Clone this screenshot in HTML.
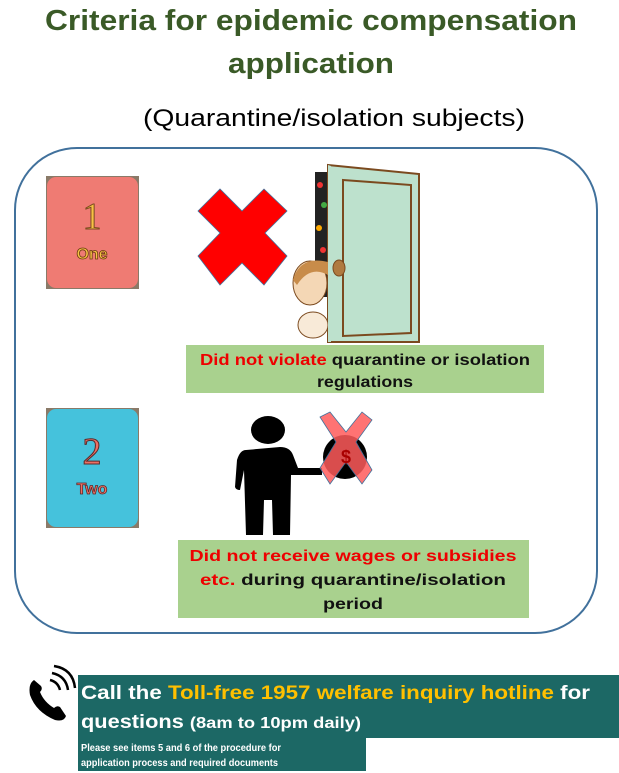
<!DOCTYPE html>
<html><head><meta charset="utf-8"><style>
html,body{margin:0;padding:0;background:#fff;}
svg{display:block;font-family:"Liberation Sans",sans-serif;}
</style></head><body>
<svg width="619" height="773" viewBox="0 0 619 773" xmlns="http://www.w3.org/2000/svg">
<text x="311" y="30" text-anchor="middle" font-size="29" font-weight="bold" fill="#3a5a27" textLength="532" lengthAdjust="spacingAndGlyphs">Criteria for epidemic compensation</text>
<text x="311" y="73" text-anchor="middle" font-size="29" font-weight="bold" fill="#3a5a27" textLength="166" lengthAdjust="spacingAndGlyphs">application</text>
<text x="334" y="126" text-anchor="middle" font-size="24" fill="#000" textLength="382" lengthAdjust="spacingAndGlyphs">(Quarantine/isolation subjects)</text>
<rect x="15" y="148" width="582" height="485" rx="62" ry="62" fill="#fff" stroke="#41719c" stroke-width="2"/>
<!-- card 1 -->
<rect x="46" y="176" width="93" height="113" fill="#8a7a68"/>
<rect x="47" y="177" width="91" height="111" rx="9" fill="#ef7b73"/>
<text x="92" y="229" text-anchor="middle" font-family="Liberation Serif,serif" font-size="38" fill="#f7c244" stroke="#7a4a20" stroke-width="1">1</text>
<text x="92" y="259" text-anchor="middle" font-size="16" font-weight="bold" fill="#f7c244" stroke="#6a3a10" stroke-width="0.8">One</text>
<!-- card 2 -->
<rect x="46" y="408" width="93" height="120" fill="#8a7a68"/>
<rect x="47" y="409" width="91" height="118" rx="9" fill="#45c2dc"/>
<text x="92" y="464" text-anchor="middle" font-family="Liberation Serif,serif" font-size="38" fill="#ec6f64" stroke="#5a2a2a" stroke-width="1">2</text>
<text x="92" y="494" text-anchor="middle" font-size="16" font-weight="bold" fill="#ec6f64" stroke="#5a2a2a" stroke-width="0.8">Two</text>
<!-- red X -->
<polygon points="198,211 220,189 242,211 264,189 287,211 265,233 287,256 264,285 242,263 220,285 198,256 220,233" fill="#f00" stroke="#41719c" stroke-width="0.8"/>
<!-- door -->
<rect x="315" y="172" width="14" height="125" fill="#222"/>
<circle cx="320" cy="185" r="3" fill="#e33"/><circle cx="324" cy="205" r="3" fill="#4a4"/><circle cx="319" cy="228" r="3" fill="#fa0"/><circle cx="323" cy="250" r="3" fill="#e33"/>
<polygon points="328,165 419,174 419,342 328,342" fill="#bde1cd" stroke="#7b4a1f" stroke-width="2"/>
<polygon points="343,180 411,185 411,333 343,336" fill="none" stroke="#7b4a1f" stroke-width="2"/>
<ellipse cx="310" cy="283" rx="17" ry="22" fill="#f4d7b5" stroke="#7b4a1f"/>
<path d="M293,280 Q300,255 328,262 L328,275 Q310,265 297,285Z" fill="#c88c4a"/>
<ellipse cx="313" cy="325" rx="15" ry="13" fill="#f8ead8" stroke="#7b4a1f"/>
<polygon points="328,165 328,342 331,342 331,166" fill="#bde1cd"/>
<ellipse cx="339" cy="268" rx="6" ry="8" fill="#b07a40" stroke="#7b4a1f"/>
<!-- label 1 -->
<rect x="186" y="345" width="358" height="48" fill="#a9d18e"/>
<text x="365" y="365" text-anchor="middle" font-size="16" font-weight="bold" textLength="330" lengthAdjust="spacingAndGlyphs"><tspan fill="#e00">Did not violate</tspan><tspan fill="#111"> quarantine or isolation</tspan></text>
<text x="365" y="387" text-anchor="middle" font-size="16" font-weight="bold" fill="#111" textLength="96" lengthAdjust="spacingAndGlyphs">regulations</text>
<!-- person -->
<ellipse cx="268" cy="430" rx="17" ry="14" fill="#000"/>
<path d="M246,450 Q240,450 237,460 L235,487 Q236,490 240,490 L244,470 L246,535 L263,535 L264,500 L272,500 L273,535 L290,535 L291,475 L298,475 L322,475 L322,468 L298,468 L293,455 Q290,447 280,447 Z" fill="#000"/>
<ellipse cx="345" cy="457" rx="22" ry="22" fill="#000"/>
<polygon points="320,417 330,412 346,432 362,412 372,420 356,442 372,470 362,484 346,462 330,484 320,468 336,442" fill="#ff5b5b" fill-opacity="0.85" stroke="#41719c" stroke-width="0.8"/>
<text x="346" y="463" text-anchor="middle" font-size="18" font-weight="bold" fill="#a00">$</text>
<!-- label 2 -->
<rect x="178" y="540" width="351" height="78" fill="#a9d18e"/>
<text x="353" y="561" text-anchor="middle" font-size="16" font-weight="bold" fill="#e00" textLength="327" lengthAdjust="spacingAndGlyphs">Did not receive wages or subsidies</text>
<text x="353" y="585" text-anchor="middle" font-size="16" font-weight="bold" textLength="306" lengthAdjust="spacingAndGlyphs"><tspan fill="#e00">etc.</tspan><tspan fill="#111"> during quarantine/isolation</tspan></text>
<text x="353" y="609" text-anchor="middle" font-size="16" font-weight="bold" fill="#111" textLength="60" lengthAdjust="spacingAndGlyphs">period</text>
<!-- phone -->
<path d="M34,680 Q28,684 30,695 Q36,712 55,720 Q64,722 66,716 L60,707 Q57,705 54,708 Q44,702 40,692 Q43,689 41,686 Z" fill="#000"/>
<path d="M50,680 Q58,682 60,690" stroke="#000" stroke-width="2.5" fill="none"/>
<path d="M52,673 Q66,676 68,690" stroke="#000" stroke-width="2.5" fill="none"/>
<path d="M54,666 Q73,669 75,688" stroke="#000" stroke-width="2.5" fill="none"/>
<!-- bottom boxes -->
<rect x="78" y="675" width="541" height="63" fill="#1c6865"/>
<text x="81" y="699" font-size="19" font-weight="bold" textLength="509" lengthAdjust="spacingAndGlyphs"><tspan fill="#fff">Call the </tspan><tspan fill="#ffc000">Toll-free 1957 welfare inquiry hotline</tspan><tspan fill="#fff"> for</tspan></text>
<text x="81" y="728" font-size="19" font-weight="bold" fill="#fff" textLength="280" lengthAdjust="spacingAndGlyphs">questions <tspan font-size="16">(8am to 10pm daily)</tspan></text>
<rect x="78" y="738" width="288" height="33" fill="#1c6865"/>
<text x="81" y="751" font-size="10.5" font-weight="bold" fill="#fff" textLength="200" lengthAdjust="spacingAndGlyphs">Please see items 5 and 6 of the procedure for</text>
<text x="81" y="766" font-size="10.5" font-weight="bold" fill="#fff" textLength="197" lengthAdjust="spacingAndGlyphs">application process and required documents</text>
</svg>
</body></html>
